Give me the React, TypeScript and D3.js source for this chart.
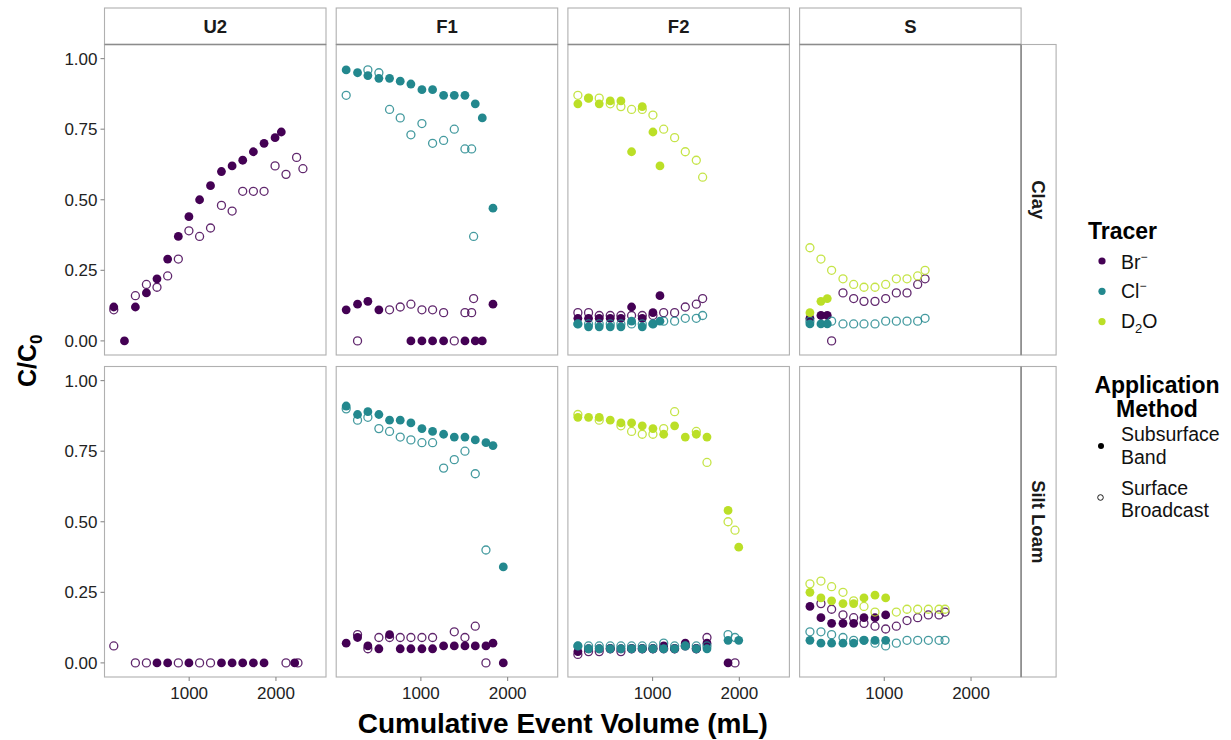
import React from "react";
import * as d3 from "d3";

type P = [number, number];

// ---- data: [cumulative event volume (mL), C/C0] ----
// Clay
const clayU2BrBand: P[] = [[131,0.12],[254,0],[380,0.12],[507,0.17],[629,0.22],[752,0.29],[875,0.37],[997,0.44],[1120,0.50],[1246,0.55],[1372,0.60],[1495,0.62],[1617,0.64],[1740,0.67],[1863,0.70],[1990,0.72],[2062,0.74]];
const clayU2BrBroad: P[] = [[131,0.11],[380,0.16],[507,0.20],[629,0.19],[752,0.23],[875,0.29],[997,0.39],[1120,0.37],[1246,0.40],[1372,0.48],[1495,0.46],[1617,0.53],[1740,0.53],[1863,0.53],[1990,0.62],[2116,0.59],[2238,0.65],[2311,0.61]];

const clayF1BrBand: P[] = [[139,0.11],[270,0.13],[389,0.14],[516,0.11],[885,0],[1012,0],[1135,0],[1262,0],[1508,0],[1627,0],[1708,0],[1831,0.13]];
const clayF1BrBroad: P[] = [[270,0],[639,0.11],[762,0.12],[885,0.13],[1012,0.11],[1135,0.11],[1262,0.10],[1385,0],[1508,0.10],[1585,0.10],[1608,0.15]];
const clayF1ClBand: P[] = [[139,0.96],[270,0.95],[389,0.94],[516,0.93],[639,0.93],[762,0.92],[885,0.91],[1012,0.89],[1135,0.89],[1262,0.87],[1385,0.87],[1508,0.87],[1627,0.84],[1708,0.79],[1831,0.47]];
const clayF1ClBroad: P[] = [[139,0.87],[389,0.96],[516,0.95],[639,0.82],[762,0.79],[885,0.73],[1012,0.77],[1135,0.70],[1262,0.71],[1385,0.75],[1508,0.68],[1585,0.68],[1608,0.37]];

const clayF2BrBand: P[] = [[139,0.08],[262,0.08],[385,0.08],[512,0.08],[635,0.08],[758,0.12],[881,0.08],[1004,0.10],[1085,0.16]];
const clayF2BrBroad: P[] = [[139,0.10],[262,0.10],[385,0.09],[512,0.09],[635,0.09],[758,0.09],[881,0.09],[1004,0.09],[1128,0.10],[1254,0.10],[1377,0.12],[1504,0.13],[1577,0.15]];
const clayF2ClBand: P[] = [[139,0.06],[262,0.05],[385,0.05],[512,0.05],[635,0.05],[758,0.07],[881,0.05],[1004,0.06],[1085,0.07]];
const clayF2ClBroad: P[] = [[139,0.06],[262,0.06],[385,0.06],[512,0.06],[635,0.06],[758,0.06],[881,0.06],[1004,0.06],[1128,0.07],[1254,0.07],[1377,0.08],[1504,0.08],[1577,0.09]];
const clayF2D2OBand: P[] = [[139,0.84],[262,0.86],[385,0.84],[512,0.85],[635,0.85],[758,0.67],[881,0.83],[1004,0.74],[1085,0.62]];
const clayF2D2OBroad: P[] = [[139,0.87],[262,0.86],[385,0.86],[512,0.84],[635,0.83],[758,0.82],[881,0.82],[1004,0.80],[1128,0.75],[1254,0.72],[1377,0.67],[1504,0.64],[1577,0.58]];

const claySBrBand: P[] = [[143,0.08],[270,0.09],[343,0.09]];
const claySBrBroad: P[] = [[393,0],[524,0.17],[647,0.15],[766,0.14],[893,0.14],[1016,0.15],[1139,0.17],[1262,0.17],[1385,0.20],[1470,0.22]];
const claySClBand: P[] = [[143,0.06],[270,0.06],[343,0.06]];
const claySClBroad: P[] = [[143,0.07],[393,0.07],[524,0.06],[647,0.06],[766,0.06],[893,0.06],[1016,0.07],[1139,0.07],[1262,0.07],[1385,0.07],[1470,0.08]];
const claySD2OBand: P[] = [[143,0.10],[270,0.14],[343,0.15]];
const claySD2OBroad: P[] = [[143,0.33],[270,0.29],[393,0.25],[524,0.22],[647,0.20],[766,0.19],[893,0.19],[1016,0.20],[1139,0.22],[1262,0.22],[1385,0.23],[1470,0.25]];

// Silt Loam
const siltU2BrBand: P[] = [[629,0],[752,0],[997,0],[1372,0],[1495,0],[1617,0],[1740,0],[1863,0],[2216,0]];
const siltU2BrBroad: P[] = [[131,0.06],[380,0],[507,0],[875,0],[1120,0],[1246,0],[2116,0],[2254,0]];

const siltF1BrBand: P[] = [[139,0.07],[270,0.09],[389,0.06],[516,0.05],[639,0.10],[762,0.05],[885,0.05],[1012,0.05],[1135,0.05],[1262,0.06],[1385,0.06],[1508,0.06],[1627,0.06],[1750,0.06],[1831,0.07],[1950,0]];
const siltF1BrBroad: P[] = [[270,0.10],[389,0.05],[516,0.09],[639,0.09],[762,0.09],[885,0.09],[1012,0.09],[1135,0.09],[1385,0.11],[1508,0.09],[1627,0.13],[1750,0]];
const siltF1ClBand: P[] = [[139,0.91],[270,0.88],[389,0.89],[516,0.88],[639,0.86],[762,0.86],[885,0.85],[1012,0.83],[1135,0.82],[1262,0.81],[1385,0.80],[1508,0.80],[1627,0.79],[1750,0.78],[1831,0.77],[1950,0.34]];
const siltF1ClBroad: P[] = [[139,0.90],[270,0.86],[389,0.87],[516,0.83],[639,0.82],[762,0.80],[885,0.79],[1012,0.78],[1135,0.78],[1262,0.69],[1385,0.72],[1508,0.75],[1627,0.67],[1750,0.40]];

const siltF2BrBand: P[] = [[139,0.04],[262,0.05],[385,0.05],[512,0.05],[635,0.05],[758,0.05],[881,0.05],[1004,0.05],[1128,0.06],[1254,0.05],[1377,0.07],[1504,0.05],[1627,0.07],[1870,0]];
const siltF2BrBroad: P[] = [[139,0.03],[262,0.04],[385,0.04],[512,0.05],[635,0.04],[758,0.05],[881,0.05],[1004,0.05],[1128,0.05],[1254,0.05],[1377,0.06],[1504,0.05],[1627,0.09],[1950,0]];
const siltF2ClBand: P[] = [[139,0.06],[262,0.05],[385,0.05],[512,0.05],[635,0.05],[758,0.05],[881,0.05],[1004,0.05],[1128,0.05],[1254,0.05],[1377,0.06],[1504,0.05],[1627,0.05],[1870,0.08],[1993,0.08]];
const siltF2ClBroad: P[] = [[139,0.06],[262,0.06],[385,0.06],[512,0.06],[635,0.06],[758,0.06],[881,0.06],[1004,0.06],[1128,0.07],[1254,0.06],[1377,0.06],[1504,0.06],[1627,0.06],[1870,0.10],[1950,0.09]];
const siltF2D2OBand: P[] = [[139,0.87],[262,0.87],[385,0.87],[512,0.86],[635,0.85],[758,0.85],[881,0.84],[1004,0.83],[1128,0.81],[1254,0.84],[1377,0.80],[1504,0.81],[1627,0.80],[1870,0.54],[1993,0.41]];
const siltF2D2OBroad: P[] = [[139,0.88],[385,0.86],[635,0.84],[758,0.82],[881,0.81],[1004,0.81],[1128,0.83],[1254,0.89],[1504,0.82],[1627,0.71],[1870,0.50],[1950,0.47]];

const siltSBrBand: P[] = [[143,0.20],[270,0.16],[393,0.14],[524,0.14],[647,0.14],[766,0.16],[893,0.16],[1016,0.17]];
const siltSBrBroad: P[] = [[270,0.21],[393,0.19],[524,0.17],[647,0.16],[766,0.14],[893,0.13],[1016,0.12],[1139,0.13],[1262,0.15],[1385,0.16],[1508,0.17],[1631,0.17],[1700,0.18]];
const siltSClBand: P[] = [[143,0.08],[270,0.07],[393,0.07],[524,0.07],[647,0.07],[766,0.08],[893,0.08],[1016,0.08]];
const siltSClBroad: P[] = [[143,0.11],[270,0.11],[393,0.10],[524,0.09],[647,0.08],[766,0.08],[893,0.07],[1016,0.06],[1139,0.07],[1262,0.08],[1385,0.08],[1508,0.08],[1631,0.08],[1700,0.08]];
const siltSD2OBand: P[] = [[143,0.25],[270,0.23],[393,0.22],[524,0.21],[647,0.21],[766,0.23],[893,0.24],[1016,0.23]];
const siltSD2OBroad: P[] = [[143,0.28],[270,0.29],[393,0.27],[524,0.25],[647,0.22],[766,0.20],[893,0.18],[1139,0.18],[1262,0.19],[1385,0.19],[1508,0.19],[1631,0.19],[1700,0.19]];

const treatments = ["U2", "F1", "F2", "S"];
const soils = ["Clay", "Silt Loam"];
const tracers = ["Br", "Cl", "D2O"];
const tracerColors = ["#440154", "#23888E", "#BBDF27"];
const xTicks = [1000, 2000];
const yTicks = [0, 0.25, 0.5, 0.75, 1.0];

type Series = { soil: number; trt: number; tracer: number; band: boolean; pts: P[] };
const series: Series[] = [
  { soil: 0, trt: 0, tracer: 0, band: false, pts: clayU2BrBroad },
  { soil: 0, trt: 0, tracer: 0, band: true, pts: clayU2BrBand },
  { soil: 0, trt: 1, tracer: 0, band: false, pts: clayF1BrBroad },
  { soil: 0, trt: 1, tracer: 0, band: true, pts: clayF1BrBand },
  { soil: 0, trt: 1, tracer: 1, band: false, pts: clayF1ClBroad },
  { soil: 0, trt: 1, tracer: 1, band: true, pts: clayF1ClBand },
  { soil: 0, trt: 2, tracer: 0, band: false, pts: clayF2BrBroad },
  { soil: 0, trt: 2, tracer: 0, band: true, pts: clayF2BrBand },
  { soil: 0, trt: 2, tracer: 1, band: false, pts: clayF2ClBroad },
  { soil: 0, trt: 2, tracer: 1, band: true, pts: clayF2ClBand },
  { soil: 0, trt: 2, tracer: 2, band: false, pts: clayF2D2OBroad },
  { soil: 0, trt: 2, tracer: 2, band: true, pts: clayF2D2OBand },
  { soil: 0, trt: 3, tracer: 0, band: false, pts: claySBrBroad },
  { soil: 0, trt: 3, tracer: 0, band: true, pts: claySBrBand },
  { soil: 0, trt: 3, tracer: 1, band: false, pts: claySClBroad },
  { soil: 0, trt: 3, tracer: 1, band: true, pts: claySClBand },
  { soil: 0, trt: 3, tracer: 2, band: false, pts: claySD2OBroad },
  { soil: 0, trt: 3, tracer: 2, band: true, pts: claySD2OBand },
  { soil: 1, trt: 0, tracer: 0, band: false, pts: siltU2BrBroad },
  { soil: 1, trt: 0, tracer: 0, band: true, pts: siltU2BrBand },
  { soil: 1, trt: 1, tracer: 0, band: false, pts: siltF1BrBroad },
  { soil: 1, trt: 1, tracer: 0, band: true, pts: siltF1BrBand },
  { soil: 1, trt: 1, tracer: 1, band: false, pts: siltF1ClBroad },
  { soil: 1, trt: 1, tracer: 1, band: true, pts: siltF1ClBand },
  { soil: 1, trt: 2, tracer: 0, band: false, pts: siltF2BrBroad },
  { soil: 1, trt: 2, tracer: 0, band: true, pts: siltF2BrBand },
  { soil: 1, trt: 2, tracer: 1, band: false, pts: siltF2ClBroad },
  { soil: 1, trt: 2, tracer: 1, band: true, pts: siltF2ClBand },
  { soil: 1, trt: 2, tracer: 2, band: false, pts: siltF2D2OBroad },
  { soil: 1, trt: 2, tracer: 2, band: true, pts: siltF2D2OBand },
  { soil: 1, trt: 3, tracer: 0, band: false, pts: siltSBrBroad },
  { soil: 1, trt: 3, tracer: 0, band: true, pts: siltSBrBand },
  { soil: 1, trt: 3, tracer: 1, band: false, pts: siltSClBroad },
  { soil: 1, trt: 3, tracer: 1, band: true, pts: siltSClBand },
  { soil: 1, trt: 3, tracer: 2, band: false, pts: siltSD2OBroad },
  { soil: 1, trt: 3, tracer: 2, band: true, pts: siltSD2OBand },
];

// ---- layout ----
const W = 1231, H = 740;
const panelLeft0 = 104.5, panelStep = 231.7, panelW = 221.5;
const rowTops = [44.5, 366.5], panelH = 310.5;
const stripTop = 8;
const stripRightW = 35;
const FONT = "'Liberation Sans', Arial, Helvetica, sans-serif";
const BORDER = "#b0b0b0";
const DARK = "#8c8c8c";
const TXT = "#1a1a1a";

function TracerLabel({ i }: { i: number }) {
  if (i === 0) return (<>Br<tspan dy={-8} fontSize={12}>−</tspan></>);
  if (i === 1) return (<>Cl<tspan dy={-8} fontSize={12}>−</tspan></>);
  return (<>D<tspan dy={5} fontSize={13}>2</tspan><tspan dy={-5}>O</tspan></>);
}

export default function App() {
  const xDomain: [number, number] = [24, 2577];
  const yDomain: [number, number] = [-0.05, 1.05];
  const xScale = (c: number) => d3.scaleLinear().domain(xDomain).range([panelLeft0 + c * panelStep, panelLeft0 + c * panelStep + panelW]);
  const yScale = (r: number) => d3.scaleLinear().domain(yDomain).range([rowTops[r] + panelH, rowTops[r]]);
  const yFmt = d3.format(".2f");
  const rightStripX = panelLeft0 + 3 * panelStep + panelW;
  const plotCenterX = (panelLeft0 + rightStripX) / 2;
  const plotCenterY = (rowTops[0] + rowTops[1] + panelH) / 2;

  return (
    <svg width={W} height={H} style={{ position: "absolute", left: 0, top: 0, background: "#fff" }} fontFamily={FONT}>
      <rect x={0} y={0} width={W} height={H} fill="#fff" />
      {/* top strips */}
      {treatments.map((t, c) => {
        const x0 = panelLeft0 + c * panelStep;
        return (
          <g key={"ts" + t}>
            <rect x={x0} y={stripTop} width={panelW} height={rowTops[0] - stripTop} fill="#fff" stroke={BORDER} strokeWidth={1.1} />
            <text x={x0 + panelW / 2} y={(stripTop + rowTops[0]) / 2 + 6.5} textAnchor="middle" fontWeight="bold" fontSize={18.5} fill={TXT}>{t}</text>
          </g>
        );
      })}
      {/* right strips */}
      {soils.map((s, r) => (
        <g key={"rs" + s}>
          <rect x={rightStripX} y={rowTops[r]} width={stripRightW} height={panelH} fill="#fff" stroke={BORDER} strokeWidth={1.1} />
          <text transform={`translate(${rightStripX + stripRightW / 2 - 6.5},${rowTops[r] + panelH / 2}) rotate(90)`} textAnchor="middle" fontWeight="bold" fontSize={18.5} fill={TXT}>{s}</text>
        </g>
      ))}
      {/* panels */}
      {soils.map((s, r) => treatments.map((t, c) => {
        const xs = xScale(c), ys = yScale(r);
        const x0 = panelLeft0 + c * panelStep;
        return (
          <g key={"p" + r + c}>
            <rect x={x0} y={rowTops[r]} width={panelW} height={panelH} fill="#fff" stroke={BORDER} strokeWidth={1.1} />
            {r === 0 && <line x1={x0} x2={x0 + panelW} y1={rowTops[0]} y2={rowTops[0]} stroke={DARK} strokeWidth={1.6} />}
            {c === 3 && <line x1={x0 + panelW} x2={x0 + panelW} y1={rowTops[r]} y2={rowTops[r] + panelH} stroke={DARK} strokeWidth={1.6} />}
            {c === 0 && yTicks.map(v => (
              <g key={"yt" + v}>
                <line x1={x0 - 4} x2={x0} y1={ys(v)} y2={ys(v)} stroke="#8a8a8a" strokeWidth={1.1} />
                <text x={x0 - 7} y={ys(v) + 6} textAnchor="end" fontSize={17} fill="#222">{yFmt(v)}</text>
              </g>
            ))}
            {r === 1 && xTicks.map(v => (
              <g key={"xt" + v}>
                <line x1={xs(v)} x2={xs(v)} y1={rowTops[r] + panelH} y2={rowTops[r] + panelH + 4} stroke="#8a8a8a" strokeWidth={1.1} />
                <text x={xs(v)} y={rowTops[r] + panelH + 22} textAnchor="middle" fontSize={17} fill="#222">{v}</text>
              </g>
            ))}
          </g>
        );
      }))}
      {/* points */}
      {series.map((se, i) => {
        const xs = xScale(se.trt), ys = yScale(se.soil);
        const col = tracerColors[se.tracer];
        return (
          <g key={"s" + i}>
            {se.pts.map((p, j) => se.band
              ? <circle key={j} cx={xs(p[0])} cy={ys(p[1])} r={4.4} fill={col} />
              : <circle key={j} cx={xs(p[0])} cy={ys(p[1])} r={4.0} fill="none" stroke={col} strokeWidth={1.3} strokeOpacity={0.85} />)}
          </g>
        );
      })}
      {/* axis titles */}
      <text x={plotCenterX} y={733} textAnchor="middle" fontWeight="bold" fontSize={28} fill="#000">Cumulative Event Volume (mL)</text>
      <text transform={`translate(36,${plotCenterY}) rotate(-90)`} textAnchor="middle" fontWeight="bold" fontSize={25} fill="#000">
        C/C<tspan dy={6} fontSize={17}>0</tspan>
      </text>
      {/* legend: tracer */}
      <text x={1088} y={239} fontWeight="bold" fontSize={23} fill="#000">Tracer</text>
      {tracers.map((t, i) => (
        <g key={"lg" + t}>
          <circle cx={1102} cy={261 + i * 30.3} r={3.6} fill={tracerColors[i]} />
          <text x={1121} y={268.5 + i * 29.5} fontSize={19.5} fill="#111"><TracerLabel i={i} /></text>
        </g>
      ))}
      {/* legend: application method */}
      <text x={1157} y={393} textAnchor="middle" fontWeight="bold" fontSize={23} fill="#000">Application</text>
      <text x={1157} y={417} textAnchor="middle" fontWeight="bold" fontSize={23} fill="#000">Method</text>
      <circle cx={1101} cy={446} r={3} fill="#000" />
      <text x={1121} y={441} fontSize={19.5} fill="#111">Subsurface</text>
      <text x={1121} y={463.5} fontSize={19.5} fill="#111">Band</text>
      <circle cx={1100.5} cy={497.5} r={2.8} fill="none" stroke="#000" strokeWidth={0.9} />
      <text x={1121} y={495} fontSize={19.5} fill="#111">Surface</text>
      <text x={1121} y={517} fontSize={19.5} fill="#111">Broadcast</text>
    </svg>
  );
}
